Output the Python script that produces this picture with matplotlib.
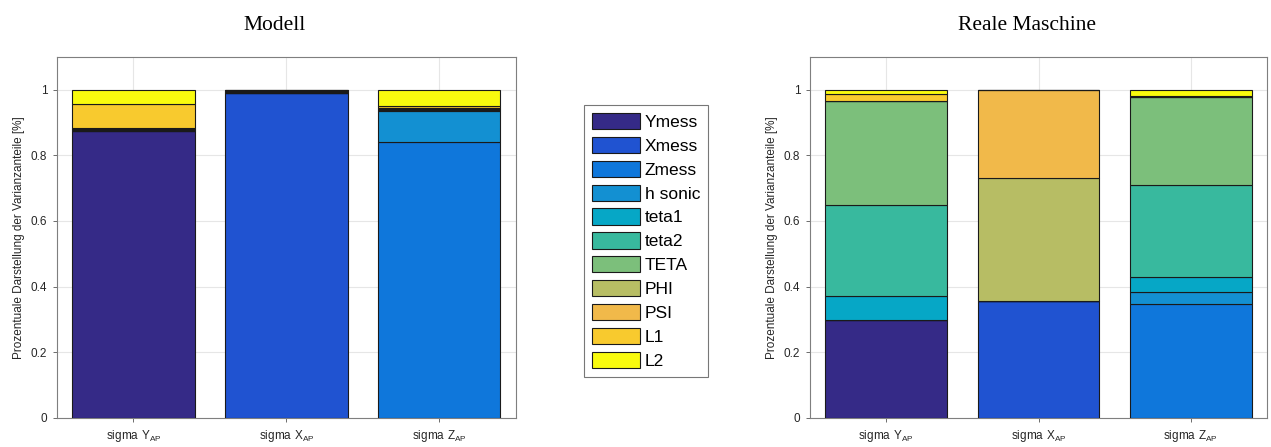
import matplotlib.pyplot as plt
import numpy as np

categories = [r'$\mathregular{sigma\ Y_{AP}}$', r'$\mathregular{sigma\ X_{AP}}$', r'$\mathregular{sigma\ Z_{AP}}$']
series = ['Ymess', 'Xmess', 'Zmess', 'h sonic', 'teta1', 'teta2', 'TETA', 'PHI', 'PSI', 'L1', 'L2']
colors = ['#352a87', '#2053d1', '#0f77db', '#1390d2', '#06a7c6', '#38b99e',
          '#7cbf7b', '#b7bd64', '#f1b94a', '#f8ca2e', '#f9fb0e']

# variance share per series (rows) for sigma Y / X / Z (columns)
modell = np.array([
    [0.875, 0.0, 0.0],     # Ymess
    [0.0, 0.990, 0.0],     # Xmess
    [0.0, 0.0, 0.840],     # Zmess
    [0.003, 0.0, 0.095],   # h sonic
    [0.002, 0.0, 0.003],   # teta1
    [0.002, 0.003, 0.003], # teta2
    [0.002, 0.0, 0.002],   # TETA
    [0.0, 0.004, 0.0],     # PHI
    [0.0, 0.003, 0.0],     # PSI
    [0.073, 0.0, 0.007],   # L1
    [0.043, 0.0, 0.050],   # L2
])
reale = np.array([
    [0.297, 0.0, 0.0],     # Ymess
    [0.0, 0.355, 0.0],     # Xmess
    [0.0, 0.0, 0.347],     # Zmess
    [0.0, 0.0, 0.038],     # h sonic
    [0.076, 0.0, 0.044],   # teta1
    [0.277, 0.0, 0.281],   # teta2
    [0.315, 0.0, 0.268],   # TETA
    [0.0, 0.375, 0.0],     # PHI
    [0.0, 0.270, 0.002],   # PSI
    [0.022, 0.0, 0.002],   # L1
    [0.013, 0.0, 0.018],   # L2
])

plt.rcParams['font.family'] = ['Liberation Sans', 'DejaVu Sans']

fig = plt.figure(figsize=(12.71, 4.47), dpi=100)
ax1 = fig.add_axes([0.0448, 0.0649, 0.361, 0.808])
ax2 = fig.add_axes([0.6373, 0.0649, 0.3596, 0.808])

x = np.arange(1, 4)
handles = []
for ax, data, title in [(ax1, modell, 'Modell'), (ax2, reale, 'Reale Maschine')]:
    bottom = np.zeros(3)
    for i, name in enumerate(series):
        b = ax.bar(x, data[i], 0.8, bottom=bottom, color=colors[i],
                   edgecolor='#1a1a1a', linewidth=0.8, label=name, zorder=3)
        bottom += data[i]
        if ax is ax1:
            handles.append(b)
    ax.set_xlim(0.5, 3.5)
    ax.set_ylim(0, 1.1)
    ax.set_xticks(x)
    ax.set_xticklabels(categories, fontsize=8.5, color='#262626')
    ax.set_yticks([0, 0.2, 0.4, 0.6, 0.8, 1])
    ax.set_yticklabels(['0', '0.2', '0.4', '0.6', '0.8', '1'], fontsize=8.5, color='#262626')
    ax.grid(True, color='#e6e6e6', linewidth=0.8, zorder=0)
    ax.tick_params(length=3, width=0.6, color='#555555', pad=4)
    for s in ax.spines.values():
        s.set_color('#7f7f7f')
        s.set_linewidth(0.8)
    ax.set_ylabel('Prozentuale Darstellung der Varianzanteile [%]', fontsize=8.5, color='#262626')
    ax.set_title(title, fontsize=15.5, family='Liberation Serif', x=0.475, pad=19)

leg = fig.legend(handles=handles, labels=series, loc='upper left',
                 bbox_to_anchor=(584 / 1271, 1 - 105 / 447), fontsize=12.5,
                 handlelength=2.8, handleheight=1.05, labelspacing=0.4,
                 handletextpad=0.25, borderpad=0.45, borderaxespad=0,
                 fancybox=False, frameon=True)
leg.get_frame().set_edgecolor('#555555')
leg.get_frame().set_linewidth(0.8)

fig.savefig('out.png', dpi=100)
